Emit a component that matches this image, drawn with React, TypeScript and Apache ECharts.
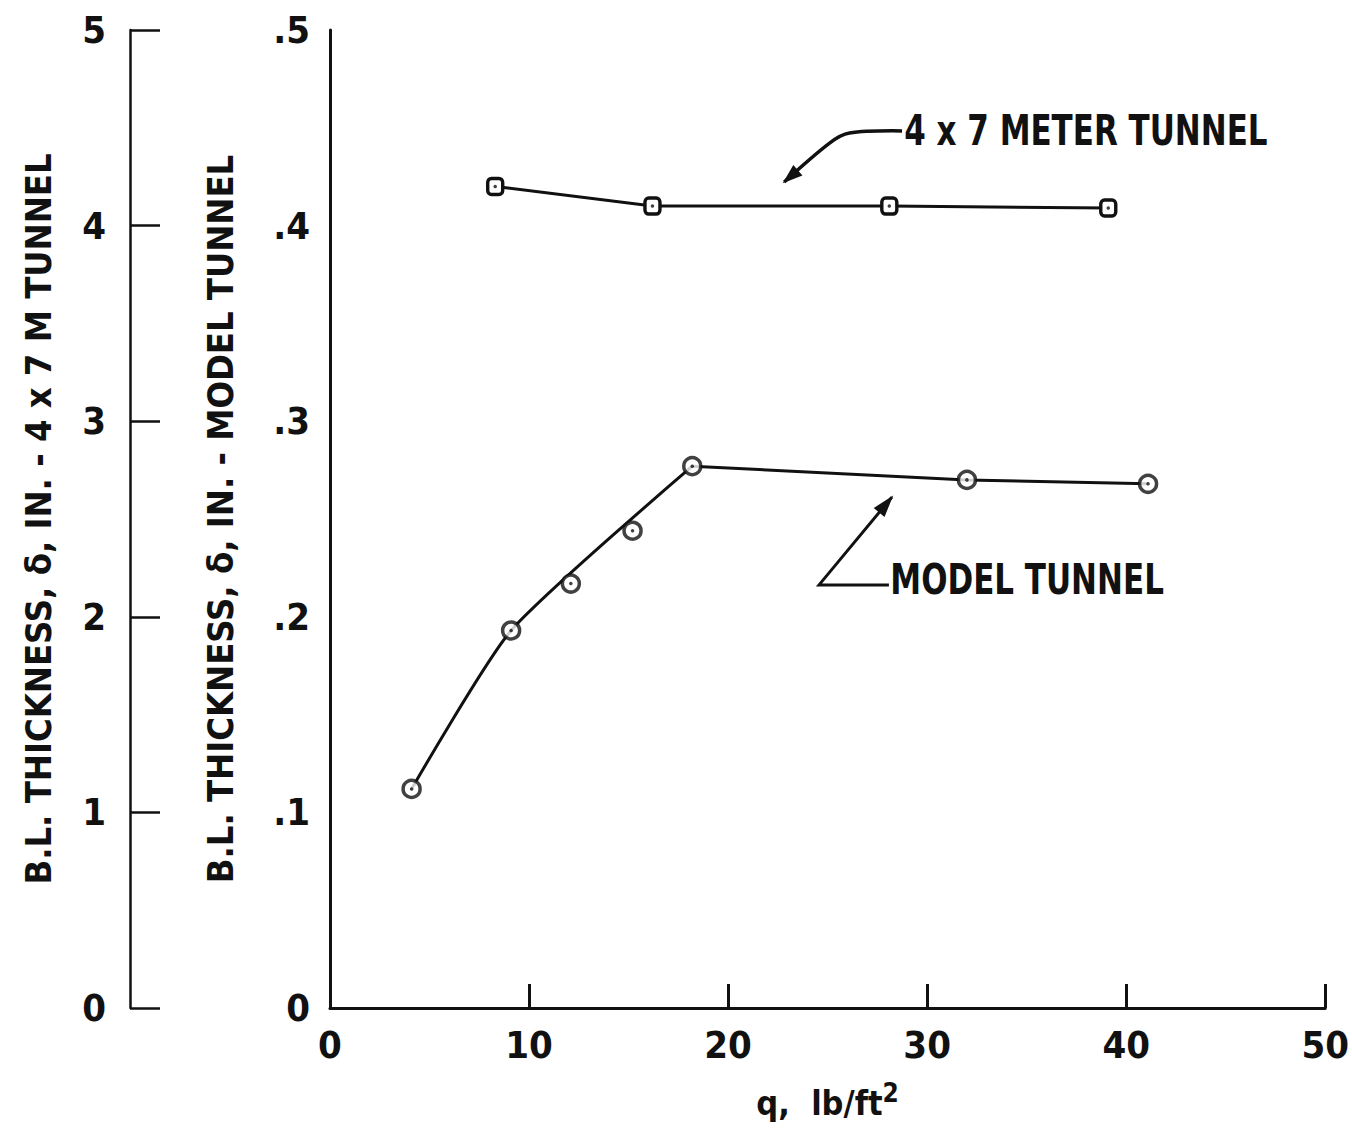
import React, { useEffect, useRef } from "react";
import * as echarts from "echarts";

const modelQ = [4.1, 9.1, 12.1, 15.2, 18.2, 32.0, 41.1];
const modelDelta = [0.112, 0.193, 0.217, 0.244, 0.277, 0.27, 0.268];
const tunnelQ = [8.3, 16.2, 28.1, 39.1];
const tunnelDelta = [4.2, 4.1, 4.1, 4.09];
const xTicks = [0, 10, 20, 30, 40, 50];
const modelTicks = [0, 0.1, 0.2, 0.3, 0.4, 0.5];
const tunnelTicks = [0, 1, 2, 3, 4, 5];
// points of the model-tunnel data that the hand-faired curve passes through
const curveThrough = [0, 1, 4];

const FONT = "'DejaVu Sans Condensed', 'Liberation Sans Narrow', 'Noto Sans', sans-serif";
const INK = "#111";

// annotation anchors in (q, model-delta) coordinates
const tunnelArrow = [
  [28.74, 0.4484],
  [26.1, 0.4473],
  [25.1, 0.4422],
  [22.82, 0.4223],
];
const tunnelTextAt = [28.85, 0.449];
const modelArrow = [
  [28.08, 0.2163],
  [24.57, 0.2163],
  [28.23, 0.2612],
];
const modelTextAt = [28.15, 0.219];

export default function App() {
  const ref = useRef<HTMLDivElement>(null);
  useEffect(() => {
    document.body.style.margin = "0";
    const chart = echarts.init(ref.current!, null, { renderer: "svg" });
    const lastCurve = curveThrough[curveThrough.length - 1];
    const option: any = {
      animation: false,
      backgroundColor: "#fff",
      grid: { left: 330, right: 25, top: 30, bottom: 124, containLabel: false },
      xAxis: {
        type: "value",
        min: xTicks[0],
        max: xTicks[xTicks.length - 1],
        interval: 10,
        axisLine: { lineStyle: { color: INK, width: 3 } },
        axisTick: { inside: true, length: 24, lineStyle: { color: INK, width: 3 } },
        splitLine: { show: false },
        axisLabel: { color: INK, fontFamily: FONT, fontWeight: "bold", fontSize: 38, margin: 18 },
        name: "{a|q,  lb/ft}{s|2}",
        nameLocation: "middle",
        nameGap: 72,
        nameTextStyle: {
          rich: {
            a: { fontFamily: FONT, fontWeight: "bold", fontSize: 34, color: INK, verticalAlign: "bottom", lineHeight: 40 },
            s: { fontFamily: FONT, fontWeight: "bold", fontSize: 26, color: INK, verticalAlign: "top", padding: [0, 0, 18, 0], lineHeight: 40 },
          },
        },
      },
      yAxis: [
        {
          type: "value",
          min: modelTicks[0],
          max: modelTicks[modelTicks.length - 1],
          interval: 0.1,
          position: "left",
          axisLine: { show: true, lineStyle: { color: INK, width: 3 } },
          axisTick: { show: false },
          splitLine: { show: false },
          axisLabel: {
            color: INK,
            fontFamily: FONT,
            fontWeight: "bold",
            fontSize: 38,
            margin: 20,
            formatter: (v: number) => (v === 0 ? "0" : "." + Math.round(v * 10)),
          },
          name: "B.L. THICKNESS, δ, IN. - MODEL TUNNEL",
          nameLocation: "middle",
          nameRotate: 90,
          nameGap: 92,
          nameTextStyle: { color: INK, fontFamily: FONT, fontWeight: "bold", fontSize: 36 },
        },
        {
          type: "value",
          min: tunnelTicks[0],
          max: tunnelTicks[tunnelTicks.length - 1],
          interval: 1,
          position: "left",
          offset: 200,
          axisLine: { show: true, lineStyle: { color: INK, width: 2.5 } },
          axisTick: { show: true, inside: true, length: 30, lineStyle: { color: INK, width: 2.5 } },
          splitLine: { show: false },
          axisLabel: { color: INK, fontFamily: FONT, fontWeight: "bold", fontSize: 38, margin: 24 },
          name: "B.L. THICKNESS, δ, IN. - 4 x 7 M TUNNEL",
          nameLocation: "middle",
          nameRotate: 90,
          nameGap: 74,
          nameTextStyle: { color: INK, fontFamily: FONT, fontWeight: "bold", fontSize: 36 },
        },
      ],
      series: [
        {
          name: "model curve",
          type: "line",
          yAxisIndex: 0,
          smooth: 0.2,
          data: curveThrough.map((i) => [modelQ[i], modelDelta[i]]),
          showSymbol: false,
          lineStyle: { color: INK, width: 3 },
          z: 2,
        },
        {
          name: "model straight",
          type: "line",
          yAxisIndex: 0,
          data: modelQ.slice(lastCurve).map((q, i) => [q, modelDelta[i + lastCurve]]),
          showSymbol: false,
          lineStyle: { color: INK, width: 3 },
          z: 2,
        },
        {
          name: "MODEL TUNNEL",
          type: "scatter",
          yAxisIndex: 0,
          data: modelQ.map((q, i) => [q, modelDelta[i]]),
          symbol: "circle",
          symbolSize: 17,
          itemStyle: { color: "#fff", borderColor: INK, borderWidth: 3.5 },
          z: 3,
        },
        {
          name: "model dots",
          type: "scatter",
          yAxisIndex: 0,
          data: modelQ.map((q, i) => [q, modelDelta[i]]),
          symbolSize: 3.5,
          itemStyle: { color: INK },
          z: 4,
        },
        {
          name: "4 x 7 METER TUNNEL",
          type: "line",
          yAxisIndex: 1,
          data: tunnelQ.map((q, i) => [q, tunnelDelta[i]]),
          symbol: "roundRect",
          symbolSize: [15, 16],
          showAllSymbol: true,
          lineStyle: { color: INK, width: 3 },
          itemStyle: { color: "#fff", borderColor: INK, borderWidth: 3.5 },
          z: 3,
        },
        {
          name: "tunnel dots",
          type: "scatter",
          yAxisIndex: 1,
          data: tunnelQ.map((q, i) => [q, tunnelDelta[i]]),
          symbolSize: 3.5,
          itemStyle: { color: INK },
          z: 4,
        },
      ],
    };
    chart.setOption(option);

    const px = (p: number[]) => chart.convertToPixel({ xAxisIndex: 0, yAxisIndex: 0 }, p) as number[];
    const arrowHead = (pts: number[][], len: number, half: number) => {
      const a = pts[pts.length - 2];
      const b = pts[pts.length - 1];
      const dx = b[0] - a[0];
      const dy = b[1] - a[1];
      const L = Math.hypot(dx, dy);
      const ux = dx / L;
      const uy = dy / L;
      const bx = b[0] - ux * len;
      const by = b[1] - uy * len;
      return [
        [b[0] + ux * 2, b[1] + uy * 2],
        [bx - uy * half, by + ux * half],
        [bx + uy * half, by - ux * half],
      ];
    };
    const tPts = tunnelArrow.map(px);
    const mPts = modelArrow.map(px);
    const tText = px(tunnelTextAt);
    const mText = px(modelTextAt);
    chart.setOption({
      graphic: [
        { type: "polyline", shape: { points: tPts, smooth: 0.3 }, style: { stroke: INK, lineWidth: 3.5, fill: null } },
        { type: "polygon", shape: { points: arrowHead(tPts, 18, 7) }, style: { fill: INK } },
        { type: "polyline", shape: { points: mPts }, style: { stroke: INK, lineWidth: 3, fill: null } },
        { type: "polygon", shape: { points: arrowHead(mPts, 20, 7) }, style: { fill: INK } },
        {
          type: "text",
          x: tText[0],
          y: tText[1],
          scaleX: 0.82,
          style: { text: "4 x 7 METER TUNNEL", fill: INK, font: `bold 42px ${FONT}`, textVerticalAlign: "middle" },
        },
        {
          type: "text",
          x: mText[0],
          y: mText[1],
          scaleX: 0.82,
          style: { text: "MODEL TUNNEL", fill: INK, font: `bold 42px ${FONT}`, textVerticalAlign: "middle" },
        },
      ],
    });
    return () => chart.dispose();
  }, []);
  return <div ref={ref} style={{ width: 1352, height: 1132 }} />;
}
